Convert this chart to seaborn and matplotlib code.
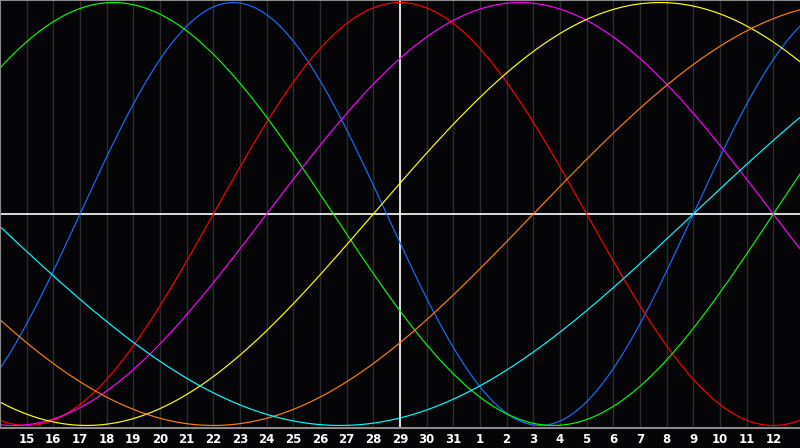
import matplotlib

matplotlib.use("Agg")
import matplotlib.pyplot as plt
import numpy as np
import pandas as pd
import seaborn as sns


# day-of-month labels along the bottom (one per grid line)
DAY_LABELS = [15, 16, 17, 18, 19, 20, 21, 22, 23, 24, 25, 26, 27, 28, 29, 30, 31,
              1, 2, 3, 4, 5, 6, 7, 8, 9, 10, 11, 12]
TODAY_INDEX = 14  # the "29" column, marked with the white vertical line

# biorhythm cycles: length in days and the label index where each one crosses zero going up
CYCLES = ["physical", "emotional", "intellectual", "intuitive", "aesthetic", "awareness", "spiritual"]
PERIODS = [23, 28, 33, 38, 43, 48, 53]
RISING_ZERO = [2, 7, 28, 9, 13, 19, 25]

COLORS = ["#1a6cff", "#ff0000", "#00ff00", "#ff00ff", "#ffff00", "#ff8000", "#00ffff"]


def build_frame():
    x = np.linspace(-1, len(DAY_LABELS), 1201)
    parts = []
    for name, period, zero in zip(CYCLES, PERIODS, RISING_ZERO):
        parts.append(pd.DataFrame({
            "day": x,
            "value": np.sin(2 * np.pi * (x - zero) / period),
            "cycle": name,
        }))
    return pd.concat(parts, ignore_index=True)


def main():
    sns.set_style("dark")
    df = build_frame()

    fig = plt.figure(figsize=(8, 4.48), dpi=100, facecolor="#050508")
    ax = fig.add_axes([0, 20 / 448, 1, 428 / 448])
    ax.set_facecolor("#050508")

    ticks = list(range(len(DAY_LABELS)))
    ax.set_xticks(ticks)
    ax.set_xticklabels([str(d) for d in DAY_LABELS])
    ax.set_yticks([])
    ax.grid(False)
    for t in ticks:
        ax.axvline(t, color="#2c2c2e", lw=1, zorder=0.5)

    ax.axhline(0, color="white", lw=1.2, zorder=1)
    ax.axvline(TODAY_INDEX, color="white", lw=1.2, zorder=1)

    sns.lineplot(
        data=df, x="day", y="value", hue="cycle", hue_order=CYCLES,
        palette=COLORS, legend=False, estimator=None, sort=False,
        linewidth=0.85, ax=ax, zorder=2,
    )

    ax.set_xlim(-1, len(DAY_LABELS))
    ax.set_ylim(-1.012, 1.012)
    ax.set_xlabel("")
    ax.set_ylabel("")
    ax.tick_params(axis="x", length=0, pad=3.5, colors="white", labelsize=8.5)
    for lab in ax.get_xticklabels():
        lab.set_fontweight("bold")

    for side in ["left", "top", "bottom"]:
        ax.spines[side].set_visible(True)
        ax.spines[side].set_color("#8a8a8a")
        ax.spines[side].set_linewidth(1.5)
    ax.spines["right"].set_visible(False)

    fig.savefig("out.png", dpi=100, facecolor=fig.get_facecolor())


if __name__ == "__main__":
    main()
